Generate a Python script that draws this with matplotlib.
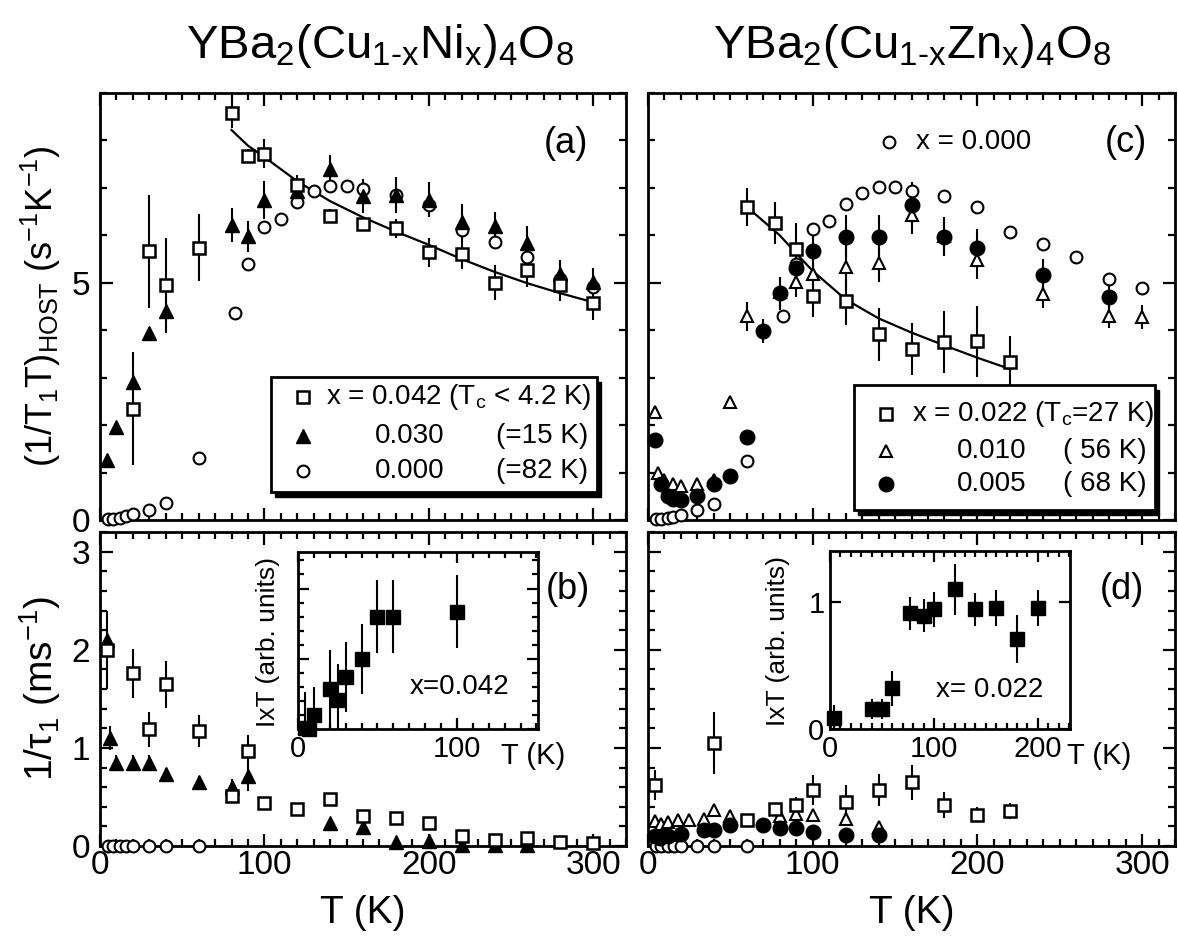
import matplotlib

matplotlib.use("Agg")
import matplotlib.pyplot as plt
from matplotlib import font_manager
from matplotlib.patches import Rectangle
from matplotlib.ticker import MultipleLocator, FixedLocator, NullLocator

names = {f.name for f in font_manager.fontManager.ttflist}
FONT = "Liberation Sans Narrow" if "Liberation Sans Narrow" in names else "Liberation Sans"
plt.rcParams["font.family"] = [FONT, "DejaVu Sans"]
plt.rcParams["mathtext.fontset"] = "custom"
plt.rcParams["mathtext.rm"] = FONT
plt.rcParams["mathtext.it"] = FONT
plt.rcParams["mathtext.default"] = "regular"

# ---- (a) YBa2(Cu1-xNix)4O8, (1/T1T)_HOST ----
ni042_T = [20, 30, 40, 60, 80, 90, 100, 120, 140, 160, 180, 200, 220, 240, 260, 280, 300]
ni042_y = [2.35, 5.66, 4.95, 5.74, 8.57, 7.68, 7.72, 7.07, 6.40, 6.24, 6.15, 5.64, 5.60, 5.00, 5.27, 4.96, 4.57]
ni042_err = [1.2, 1.2, 1.0, 0.7, 0.3, 0.15, 0.3, 0.2, 0.15, 0.15, 0.2, 0.3, 0.3, 0.37, 0.35, 0.35, 0.35]

ni030_T = [4.2, 10, 20, 30, 40, 80, 90, 100, 120, 140, 160, 180, 200, 220, 240, 260, 280, 300]
ni030_y = [1.27, 1.95, 2.90, 3.94, 4.40, 6.22, 5.98, 6.75, 6.93, 7.39, 6.83, 6.85, 6.75, 6.29, 6.19, 5.83, 5.18, 5.02]
ni030_err = [0, 0, 0, 0.1, 0.2, 0.35, 0.33, 0.4, 0.2, 0.3, 0.35, 0.38, 0.37, 0.38, 0.3, 0.37, 0.3, 0.3]

ni000_T = [5, 8, 12, 16, 20, 30, 40, 60, 82, 90, 100, 110, 120, 130, 140, 150, 160, 180, 200, 220, 240, 260, 280, 300]
ni000_y = [0.02, 0.03, 0.05, 0.08, 0.12, 0.22, 0.35, 1.31, 4.37, 5.39, 6.17, 6.34, 6.70, 6.93, 7.05, 7.05,
           6.98, 6.86, 6.63, 6.12, 5.87, 5.55, 5.09, 4.91]

fit_a_T = [80, 90, 100, 120, 140, 160, 180, 200, 220, 240, 260, 280, 300]
fit_a_y = [8.22, 7.89, 7.65, 7.14, 6.72, 6.38, 6.08, 5.80, 5.50, 5.23, 4.99, 4.78, 4.59]

# ---- (b) 1/tau1, Ni ----
b042_T = [4.2, 20, 30, 40, 60, 80, 90, 100, 120, 140, 160, 180, 200, 220, 240, 260, 280, 300]
b042_y = [2.0, 1.76, 1.19, 1.65, 1.17, 0.51, 0.97, 0.44, 0.38, 0.48, 0.31, 0.29, 0.23, 0.10, 0.06, 0.08, 0.04, 0.03]
b042_err = [0.4, 0.25, 0.18, 0.24, 0.16, 0.05, 0.16, 0, 0, 0.05, 0.05, 0, 0, 0, 0, 0, 0, 0]

b030_T = [4.2, 6, 10, 20, 30, 40, 60, 80, 90, 140, 160, 180, 200, 220, 240, 260]
b030_y = [2.1, 1.1, 0.85, 0.85, 0.85, 0.73, 0.65, 0.60, 0.71, 0.23, 0.19, 0.04, 0.05, 0.01, 0.01, 0.01]
b030_err = [0, 0.12, 0.08, 0.08, 0.08, 0.06, 0.06, 0.08, 0.15, 0, 0.05, 0, 0, 0, 0, 0]

b000_T = [5, 8, 12, 16, 20, 30, 40, 60]
b000_y = [0, 0, 0, 0, 0, 0, 0, 0]

inset_b_T = [4.2, 7, 10, 20, 25, 30, 40, 50, 60, 100]
inset_b_y = [0.02, 0.0, 0.2, 0.57, 0.42, 0.74, 1.0, 1.6, 1.6, 1.67]
inset_b_err = [0.5, 0.0, 0.4, 0.55, 0.5, 0.5, 0.5, 0.52, 0.52, 0.52]

# ---- (c) YBa2(Cu1-xZnx)4O8, (1/T1T)_HOST ----
zn022_T = [60, 77, 90, 100, 120, 140, 160, 180, 200, 220]
zn022_y = [6.60, 6.26, 5.72, 4.72, 4.62, 3.91, 3.61, 3.75, 3.77, 3.33]
zn022_err = [0.4, 0.45, 0.55, 0.45, 0.5, 0.55, 0.55, 0.65, 0.75, 0.55]

zn010_T = [4.2, 6, 10, 15, 20, 30, 40, 50, 60, 80, 90, 100, 120, 140, 160, 180, 200, 240, 280, 300]
zn010_y = [2.27, 1.0, 0.85, 0.75, 0.72, 0.75, 0.85, 2.49, 4.29, 4.80, 5.01, 5.19, 5.34, 5.41, 6.42, 5.99,
           5.48, 4.76, 4.29, 4.28]
zn010_err = [0, 0, 0, 0, 0, 0, 0, 0, 0.3, 0.3, 0.3, 0.3, 0.5, 0.4, 0.4, 0.4, 0.4, 0.3, 0.25, 0.25]

zn005_T = [4.2, 8, 12, 15, 20, 30, 40, 50, 60, 70, 80, 90, 100, 120, 140, 160, 180, 200, 240, 280]
zn005_y = [1.69, 0.75, 0.5, 0.45, 0.42, 0.5, 0.75, 0.93, 1.75, 3.98, 4.78, 5.32, 5.66, 5.97, 5.97, 6.64,
           5.97, 5.74, 5.16, 4.71]
zn005_err = [0, 0, 0, 0, 0, 0, 0, 0, 0, 0.25, 0.35, 0.5, 0.45, 0.45, 0.45, 0.48, 0.4, 0.4, 0.35, 0.3]

zn000_T = [5, 8, 12, 15, 20, 30, 40, 60, 82, 90, 100, 110, 120, 130, 140, 150, 160, 180, 200, 220, 240, 260, 280, 300]
zn000_y = [0.02, 0.03, 0.05, 0.07, 0.1, 0.22, 0.33, 1.24, 4.29, 5.39, 6.13, 6.31, 6.67, 6.90, 7.01, 7.01,
           6.94, 6.83, 6.59, 6.08, 5.82, 5.54, 5.09, 4.88]

fit_c_T = [60, 80, 90, 100, 120, 140, 160, 180, 200, 220]
fit_c_y = [6.6, 6.0, 5.62, 5.25, 4.65, 4.25, 3.95, 3.68, 3.42, 3.18]

# ---- (d) 1/tau1, Zn ----
d022_T = [4.2, 40, 60, 77, 90, 100, 120, 140, 160, 180, 200, 220]
d022_y = [0.62, 1.05, 0.27, 0.38, 0.42, 0.57, 0.45, 0.57, 0.65, 0.42, 0.32, 0.36]
d022_err = [0.15, 0.32, 0.05, 0.06, 0.08, 0.15, 0.17, 0.16, 0.18, 0.13, 0.08, 0.08]

d010_T = [4.2, 8, 12, 18, 25, 34, 40, 50, 80, 90, 100, 120, 140]
d010_y = [0.25, 0.22, 0.24, 0.26, 0.27, 0.28, 0.37, 0.31, 0.31, 0.33, 0.32, 0.28, 0.19]

d005_T = [4.2, 7, 12, 20, 34, 40, 50, 70, 80, 90, 100, 120, 140]
d005_y = [0.1, 0.085, 0.10, 0.12, 0.16, 0.16, 0.21, 0.21, 0.18, 0.18, 0.14, 0.11, 0.11]
d005_err = [0, 0, 0, 0.04, 0.05, 0.06, 0.07, 0.06, 0.06, 0.06, 0.05, 0.05, 0.05]

d000_T = [5, 8, 12, 16, 20, 30, 40, 60]
d000_y = [0, 0, 0, 0, 0, 0, 0, 0]

inset_d_T = [4.2, 40, 50, 60, 77, 90, 100, 120, 140, 160, 180, 200]
inset_d_y = [0.09, 0.157, 0.157, 0.32, 0.91, 0.89, 0.94, 1.10, 0.94, 0.95, 0.71, 0.95]
inset_d_err = [0.1, 0.08, 0.08, 0.14, 0.13, 0.13, 0.14, 0.2, 0.13, 0.14, 0.19, 0.14]

SQ = dict(marker="s", ms=9, mfc="white", mec="k", mew=1.8, ls="none")
TRI_F = dict(marker="^", ms=10, mfc="k", mec="k", mew=1.0, ls="none")
TRI_O = dict(marker="^", ms=9, mfc="white", mec="k", mew=1.5, ls="none")
CIR_O = dict(marker="o", ms=8.5, mfc="white", mec="k", mew=1.5, ls="none")
CIR_F = dict(marker="o", ms=10.5, mfc="k", mec="k", mew=1.0, ls="none")
SQ_F = dict(marker="s", ms=10, mfc="k", mec="k", mew=1.0, ls="none")

TICK_FS = 24
LEG_FS = 20


def style(ax, ymajor, yminor, xlabels, ylabels):
    for s in ax.spines.values():
        s.set_linewidth(2.0)
    ax.set_xlim(0, 320)
    ax.xaxis.set_major_locator(MultipleLocator(100))
    ax.xaxis.set_minor_locator(MultipleLocator(10))
    ax.yaxis.set_major_locator(FixedLocator(ymajor))
    ax.yaxis.set_minor_locator(MultipleLocator(yminor))
    ax.tick_params(which="both", direction="in", top=True, right=True, width=1.6)
    ax.tick_params(which="major", length=9, labelsize=TICK_FS)
    ax.tick_params(which="minor", length=5)
    ax.tick_params(axis="x", pad=3)
    ax.tick_params(axis="y", pad=7)
    ax.tick_params(labelbottom=xlabels, labelleft=ylabels)


def series(ax, T, y, st, err=None, z=3):
    if err is not None:
        ax.errorbar(T, y, yerr=err, fmt="none", ecolor="k", elinewidth=1.5, capsize=0, zorder=z - 0.5)
    ax.plot(T, y, clip_on=False, zorder=z, **st)


def legend_box(ax, x0, y0, x1, y1):
    ax.add_patch(Rectangle((x0 + 0.008, y0 - 0.012), x1 - x0, y1 - y0, transform=ax.transAxes,
                           facecolor="k", edgecolor="k", zorder=5))
    ax.add_patch(Rectangle((x0, y0), x1 - x0, y1 - y0, transform=ax.transAxes,
                           facecolor="white", edgecolor="k", lw=2.0, zorder=6))


def legend_row(ax, st, xm, yr, label=None, xt=None, mid=None, xmid=None, right=None, xr=None):
    ax.plot([xm], [yr], transform=ax.transAxes, zorder=7, clip_on=False, **st)
    if label is not None:
        ax.text(xt, yr, label, transform=ax.transAxes, fontsize=LEG_FS, va="center", ha="left", zorder=7)
    if mid is not None:
        ax.text(xmid, yr, mid, transform=ax.transAxes, fontsize=LEG_FS, va="center", ha="left", zorder=7)
    if right is not None:
        ax.text(xr, yr, right, transform=ax.transAxes, fontsize=LEG_FS, va="center", ha="right", zorder=7)


fig = plt.figure(figsize=(11.78, 9.51), dpi=100)
W, H = 1178.0, 951.0


def px_axes(x0, y_top, x1, y_bot):
    return fig.add_axes([x0 / W, 1 - y_bot / H, (x1 - x0) / W, (y_bot - y_top) / H])


ax_a = px_axes(100, 93, 626, 520)
ax_b = px_axes(100, 532, 626, 846)
ax_c = px_axes(648, 93, 1175, 520)
ax_d = px_axes(648, 532, 1175, 846)

# (a)
style(ax_a, [0, 5], 1, False, True)
ax_a.set_ylim(0, 9)
ax_a.plot(fit_a_T, fit_a_y, color="k", lw=1.6, zorder=2)
series(ax_a, ni000_T, ni000_y, CIR_O)
series(ax_a, ni030_T, ni030_y, TRI_F, ni030_err)
series(ax_a, ni042_T, ni042_y, SQ, ni042_err)
ax_a.set_ylabel("(1/T$_1$T)$_{HOST}$ (s$^{-1}$K$^{-1}$)", fontsize=26, labelpad=6)
ax_a.text(0.886, 0.881, "(a)", transform=ax_a.transAxes, fontsize=26, ha="center", va="center")
legend_box(ax_a, 0.325, 0.065, 0.945, 0.336)
legend_row(ax_a, SQ, 0.386, 0.287, "x = 0.042 (T$_c$ < 4.2 K)", 0.43)
legend_row(ax_a, TRI_F, 0.386, 0.196, mid="0.030", xmid=0.523, right="(=15 K)", xr=0.928)
legend_row(ax_a, CIR_O, 0.386, 0.114, mid="0.000", xmid=0.523, right="(=82 K)", xr=0.928)

# (b)
style(ax_b, [0, 1, 2, 3], 0.2, True, True)
ax_b.set_ylim(0, 3.2)
series(ax_b, b000_T, b000_y, CIR_O)
series(ax_b, b030_T, b030_y, TRI_F, b030_err)
series(ax_b, b042_T, b042_y, SQ, b042_err)
ax_b.set_ylabel("1/τ$_1$ (ms$^{-1}$)", fontsize=28, labelpad=6)
ax_b.set_xlabel("T (K)", fontsize=28, labelpad=10)
ax_b.text(0.89, 0.816, "(b)", transform=ax_b.transAxes, fontsize=26, ha="center", va="center")

# (c)
style(ax_c, [0, 5], 1, False, False)
ax_c.set_ylim(0, 9)
ax_c.plot(fit_c_T, fit_c_y, color="k", lw=1.6, zorder=2)
series(ax_c, zn000_T, zn000_y, CIR_O)
series(ax_c, zn010_T, zn010_y, TRI_O, zn010_err)
series(ax_c, zn005_T, zn005_y, CIR_F, zn005_err)
series(ax_c, zn022_T, zn022_y, SQ, zn022_err)
ax_c.text(0.907, 0.883, "(c)", transform=ax_c.transAxes, fontsize=26, ha="center", va="center")
legend_row(ax_c, CIR_O, 0.457, 0.886, "x = 0.000", 0.509)
legend_box(ax_c, 0.391, 0.023, 0.962, 0.317)
legend_row(ax_c, SQ, 0.451, 0.249, "x = 0.022 (T$_c$=27 K)", 0.501)
legend_row(ax_c, TRI_O, 0.451, 0.161, mid="0.010", xmid=0.586, right="( 56 K)", xr=0.946)
legend_row(ax_c, CIR_F, 0.451, 0.084, mid="0.005", xmid=0.586, right="( 68 K)", xr=0.946)

# (d)
style(ax_d, [0, 1, 2, 3], 0.2, True, False)
ax_d.set_ylim(0, 3.2)
series(ax_d, d000_T, d000_y, CIR_O)
series(ax_d, d010_T, d010_y, TRI_O)
series(ax_d, d005_T, d005_y, CIR_F, d005_err)
series(ax_d, d022_T, d022_y, SQ, d022_err)
ax_d.set_xlabel("T (K)", fontsize=28, labelpad=10)
ax_d.text(0.899, 0.816, "(d)", transform=ax_d.transAxes, fontsize=26, ha="center", va="center")

# insets
ins_b = px_axes(298, 552, 538, 729)
ins_d = px_axes(830, 551, 1070, 729)
for ins in (ins_b, ins_d):
    for s in ins.spines.values():
        s.set_linewidth(2.0)
    ins.tick_params(which="both", direction="in", top=True, right=True, width=1.6)
    ins.tick_params(which="major", length=8, labelsize=21, pad=4)
    ins.tick_params(which="minor", length=4)
    ins.xaxis.set_major_locator(MultipleLocator(100))
    ins.xaxis.set_minor_locator(MultipleLocator(10))

ins_b.set_xlim(0, 151)
ins_b.set_ylim(0, 2.52)
ins_b.yaxis.set_major_locator(MultipleLocator(1))
ins_b.yaxis.set_minor_locator(MultipleLocator(0.2))
ins_b.tick_params(labelleft=False)
ins_b.errorbar(inset_b_T, inset_b_y, yerr=inset_b_err, fmt="none", ecolor="k", elinewidth=1.5, capsize=0)
ins_b.plot(inset_b_T, inset_b_y, clip_on=False, zorder=3, **SQ_F)
ins_b.text(0.675, 0.24, "x=0.042", transform=ins_b.transAxes, fontsize=20, ha="center", va="center")
ins_b.text(0.98, -0.15, "T (K)", transform=ins_b.transAxes, fontsize=21, ha="center", va="center")
ins_b.text(-0.127, 0.494, "IxT (arb. units)", transform=ins_b.transAxes, fontsize=19,
           rotation=90, ha="center", va="center")

ins_d.set_xlim(0, 231)
ins_d.set_ylim(0, 1.4)
ins_d.yaxis.set_major_locator(MultipleLocator(1))
ins_d.yaxis.set_minor_locator(NullLocator())
ins_d.errorbar(inset_d_T, inset_d_y, yerr=inset_d_err, fmt="none", ecolor="k", elinewidth=1.5, capsize=0)
ins_d.plot(inset_d_T, inset_d_y, clip_on=False, zorder=3, **SQ_F)
ins_d.text(0.667, 0.22, "x= 0.022", transform=ins_d.transAxes, fontsize=20, ha="center", va="center")
ins_d.text(1.12, -0.15, "T (K)", transform=ins_d.transAxes, fontsize=21, ha="center", va="center")
ins_d.text(-0.215, 0.494, "IxT (arb. units)", transform=ins_d.transAxes, fontsize=19,
           rotation=90, ha="center", va="center")

fig.text(380 / W, 1 - 46 / H, "YBa$_2$(Cu$_{1\u2010x}$Ni$_x$)$_4$O$_8$", fontsize=34, ha="center", va="center")
fig.text(912 / W, 1 - 46 / H, "YBa$_2$(Cu$_{1\u2010x}$Zn$_x$)$_4$O$_8$", fontsize=34, ha="center", va="center")

fig.savefig("out.png", dpi=100)
